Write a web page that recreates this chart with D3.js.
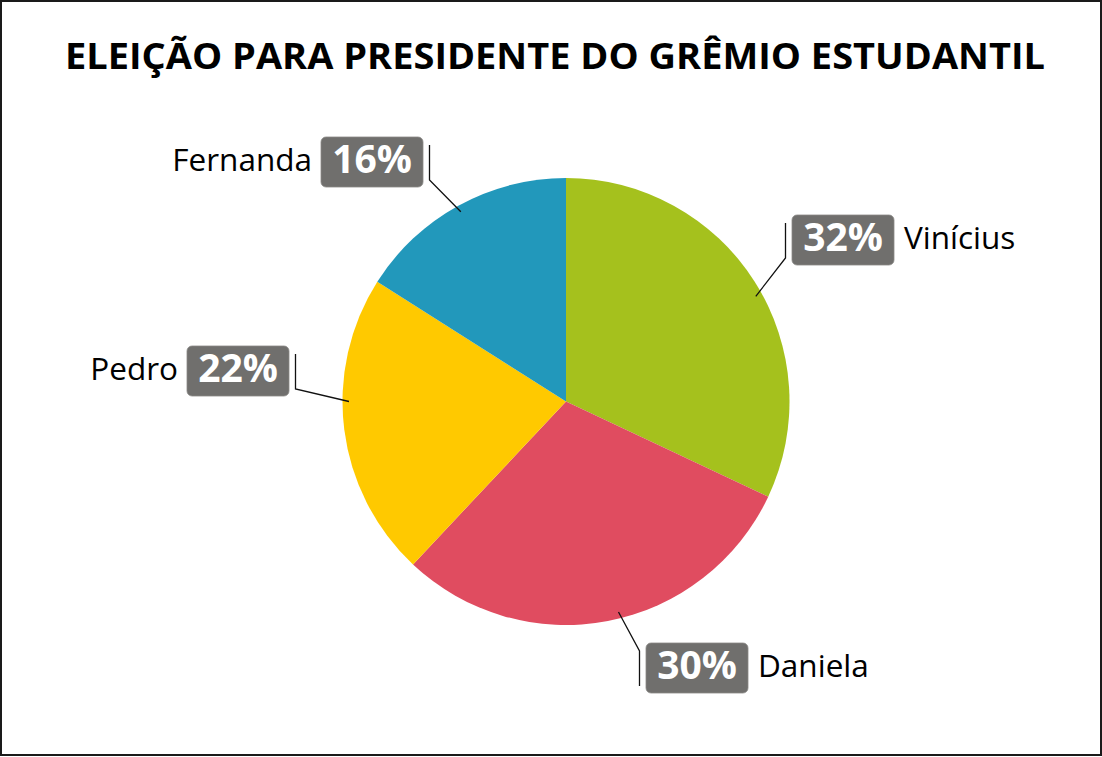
<!DOCTYPE html>
<html><head><meta charset="utf-8">
<script src="https://cdn.jsdelivr.net/npm/d3@7"></script>
<style>html,body{margin:0;padding:0;background:#fff;}svg{display:block;}</style>
</head><body>
<svg id="c" width="1102" height="757"></svg>
<script>
const title = "ELEIÇÃO PARA PRESIDENTE DO GRÊMIO ESTUDANTIL";
const names = ["Vinícius", "Daniela", "Pedro", "Fernanda"];
const values = [32, 30, 22, 16];
const colors = ["#a5c11d", "#e04c60", "#ffc900", "#2298bb"];
// label layout: box top-left, which side the name sits, leader anchor angle (deg from 12 o'clock)
const boxPos = [[792, 215], [646, 643], [187, 346], [321, 137]];
const nameSide = ["right", "right", "left", "left"];
const anchorAngle = [61, 166, 270, 331];

const W = 1102, H = 757;
const svg = d3.select("#c");
svg.append("rect").attr("x", 1).attr("y", 1).attr("width", W - 2).attr("height", H - 3)
  .attr("fill", "#fff").attr("stroke", "#1a1a1a").attr("stroke-width", 2);

const t = svg.append("text").attr("x", 555).attr("y", 69).attr("text-anchor", "middle")
  .attr("font-family", "Open Sans").attr("font-weight", 700).attr("font-size", 35)
  .attr("fill", "#000").text(title);
t.attr("textLength", 980).attr("lengthAdjust", "spacingAndGlyphs");

const cx = 566, cy = 401.5, R = 223.5;
const pie = d3.pie().sort(null).value(d => d)(values);
const arc = d3.arc().innerRadius(0).outerRadius(R);
const g = svg.append("g").attr("transform", `translate(${cx},${cy})`);
g.selectAll("path").data(pie).join("path").attr("d", arc).attr("fill", (d, i) => colors[i]);

const bw = 102, bh = 50;
pie.forEach((d, i) => {
  const [bx, by] = boxPos[i];
  const side = nameSide[i];
  const barX = side === "right" ? bx - 6.5 : bx + bw + 6.5;
  const y1 = by + 8, y2 = by + bh - 7;
  const a = anchorAngle[i] * Math.PI / 180, r = 217;
  const ax = cx + r * Math.sin(a), ay = cy - r * Math.cos(a);
  const joinY = ay < y1 ? y1 : y2;
  const otherY = joinY === y1 ? y2 : y1;
  svg.append("path")
    .attr("d", `M${barX},${otherY}L${barX},${joinY}L${ax},${ay}`)
    .attr("fill", "none").attr("stroke", "#111").attr("stroke-width", 1.3);
  svg.append("rect").attr("x", bx).attr("y", by).attr("width", bw).attr("height", bh)
    .attr("rx", 5).attr("fill", "#706f6d").attr("stroke", "#8a8987").attr("stroke-width", 0.8);
  svg.append("text").attr("x", bx + bw / 2).attr("y", by + 36).attr("text-anchor", "middle")
    .attr("font-family", "Open Sans").attr("font-weight", 700).attr("font-size", 39)
    .attr("fill", "#fff").text(d.data + "%");
  svg.append("text")
    .attr("x", side === "right" ? bx + bw + 10 : bx - 9)
    .attr("y", by + 34)
    .attr("text-anchor", side === "right" ? "start" : "end")
    .attr("font-family", "Open Sans").attr("font-size", 31.5).attr("fill", "#000")
    .text(names[i]);
});
</script>
</body></html>
